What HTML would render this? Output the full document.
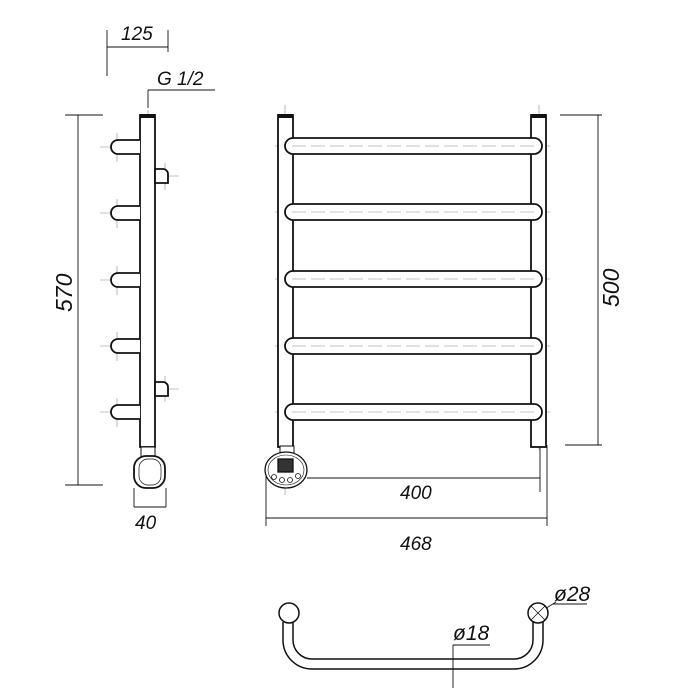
<!DOCTYPE html>
<html><head><style>body{margin:0;background:#fff}svg{display:block}text{font-family:"Liberation Sans",sans-serif;font-style:italic;fill:#111}</style></head>
<body>
<svg width="700" height="700" viewBox="0 0 700 700" xmlns="http://www.w3.org/2000/svg">
<g fill="none" stroke="#111" stroke-width="0.9">
<line x1="107" y1="30" x2="107" y2="76"/><line x1="107" y1="47" x2="168" y2="47"/><line x1="168" y1="30" x2="168" y2="52"/>
<line x1="148" y1="90" x2="215" y2="90"/><line x1="148" y1="90" x2="148" y2="108"/>
<line x1="78" y1="115" x2="78" y2="485"/><line x1="65" y1="115" x2="103" y2="115"/><line x1="65" y1="485" x2="103" y2="485"/>
<line x1="134" y1="488" x2="134" y2="507"/><line x1="166" y1="488" x2="166" y2="507"/><line x1="134" y1="507" x2="166" y2="507"/>
<line x1="307" y1="478" x2="540" y2="478"/><line x1="540" y1="445" x2="540" y2="492"/>
<line x1="266" y1="518" x2="547" y2="518"/><line x1="266" y1="468" x2="266" y2="526"/><line x1="547" y1="445" x2="547" y2="526"/>
<line x1="598" y1="115" x2="598" y2="445"/><line x1="560" y1="115" x2="602" y2="115"/><line x1="565" y1="445" x2="602" y2="445"/>
<line x1="453" y1="645" x2="490" y2="645"/><line x1="453" y1="645" x2="453" y2="688"/>
<line x1="553" y1="604" x2="587" y2="604"/><line x1="540" y1="612" x2="556" y2="602"/>
</g>
<g stroke="#888" stroke-width="0.6" fill="none">
<line x1="148" y1="110" x2="148" y2="450" stroke-dasharray="12,4"/>
<line x1="285" y1="105" x2="285" y2="495" stroke-dasharray="14,4"/>
<line x1="539" y1="105" x2="539" y2="450" stroke-dasharray="14,4"/>
<g stroke-dasharray="14,5">
<line x1="275" y1="146" x2="550" y2="146"/><line x1="275" y1="212" x2="550" y2="212"/><line x1="275" y1="279" x2="550" y2="279"/><line x1="275" y1="346" x2="550" y2="346"/><line x1="275" y1="412" x2="550" y2="412"/>
</g>
<g>
<line x1="100" y1="147" x2="150" y2="147"/><line x1="117" y1="133" x2="117" y2="162"/>
<line x1="100" y1="213" x2="150" y2="213"/><line x1="117" y1="199" x2="117" y2="228"/>
<line x1="100" y1="280" x2="150" y2="280"/><line x1="117" y1="266" x2="117" y2="295"/>
<line x1="100" y1="346" x2="150" y2="346"/><line x1="117" y1="332" x2="117" y2="361"/>
<line x1="100" y1="412" x2="150" y2="412"/><line x1="117" y1="398" x2="117" y2="427"/>
<line x1="150" y1="176" x2="179" y2="176"/><line x1="165" y1="163" x2="165" y2="190"/>
<line x1="150" y1="389" x2="179" y2="389"/><line x1="165" y1="376" x2="165" y2="402"/>
</g>
</g>
<g fill="#fff" stroke="#111" stroke-width="1.8">
<rect x="140" y="115" width="15" height="332"/>
<path d="M140 140 H118 A7 7 0 0 0 118 154 H140"/>
<path d="M140 206 H118 A7 7 0 0 0 118 220 H140"/>
<path d="M140 273 H118 A7 7 0 0 0 118 287 H140"/>
<path d="M140 339 H118 A7 7 0 0 0 118 353 H140"/>
<path d="M140 405 H118 A7 7 0 0 0 118 419 H140"/>
<path d="M155 169 H163 A5 5 0 0 1 168 174 V183 H155 Z"/><path d="M155 382 H163 A5 5 0 0 1 168 387 V396 H155 Z"/>
<rect x="141" y="447" width="14" height="10" stroke-width="1"/>
<rect x="134" y="456" width="31" height="32" rx="12"/>
<rect x="139" y="459" width="22" height="26" rx="9" stroke-width="0.7"/>
</g>
<rect x="140" y="114" width="15" height="4" fill="#111"/>
<g fill="#fff" stroke="#111" stroke-width="1.8">
<rect x="278" y="115" width="15" height="332"/>
<rect x="531" y="115" width="15" height="332"/>
<rect x="280" y="446" width="14" height="9" stroke-width="1"/>
</g>
<rect x="278" y="114" width="15" height="4" fill="#111"/><rect x="531" y="114" width="15" height="4" fill="#111"/>
<g fill="#fff" stroke="#111" stroke-width="1.8">
<rect x="285" y="138" width="257" height="16" rx="8"/>
<rect x="285" y="204" width="257" height="16" rx="8"/>
<rect x="285" y="271" width="257" height="16" rx="8"/>
<rect x="285" y="338" width="257" height="16" rx="8"/>
<rect x="285" y="404" width="257" height="16" rx="8"/>
</g>
<g stroke="#888" stroke-width="0.6" stroke-dasharray="14,5"><line x1="292" y1="146" x2="536" y2="146"/><line x1="292" y1="212" x2="536" y2="212"/><line x1="292" y1="279" x2="536" y2="279"/><line x1="292" y1="346" x2="536" y2="346"/><line x1="292" y1="412" x2="536" y2="412"/></g>
<g stroke="#111" stroke-width="1.3" fill="#fff">
<ellipse cx="286" cy="470" rx="21" ry="18"/>
<ellipse cx="286" cy="470" rx="18" ry="15" stroke-width="0.6"/>
<rect x="278" y="459" width="15" height="13" fill="#333"/>
<circle cx="274" cy="477" r="2.5" stroke-width="0.8"/><circle cx="282" cy="480" r="2.5" stroke-width="0.8"/><circle cx="290" cy="480" r="2.5" stroke-width="0.8"/><circle cx="298" cy="476" r="2.5" stroke-width="0.8"/>
</g>
<g fill="none" stroke="#111" stroke-width="1.5">
<path d="M283 622 V640 A29 29 0 0 0 312 669 H514 A29 29 0 0 0 543 640 V622"/>
<path d="M293 622 V640 A19 19 0 0 0 312 659 H514 A19 19 0 0 0 533 640 V622"/>
<circle cx="289" cy="613" r="10" fill="#fff"/>
<circle cx="538" cy="613" r="10" fill="#fff"/>
<line x1="531" y1="606" x2="545" y2="620" stroke-width="0.8"/><line x1="545" y1="606" x2="531" y2="620" stroke-width="0.8"/>
</g>
<g font-size="19">
<text x="121" y="40">125</text>
<text x="157" y="85">G 1/2</text>
<text x="135" y="529">40</text>
<text x="400" y="499">400</text>
<text x="400" y="550">468</text>
<text x="453" y="640" font-size="21">ø18</text>
<text x="554" y="601" font-size="21">ø28</text>
<text transform="translate(72,312) rotate(-90)" font-size="23">570</text>
<text transform="translate(619,307) rotate(-90)" font-size="23">500</text>
</g>
</svg>
</body></html>
